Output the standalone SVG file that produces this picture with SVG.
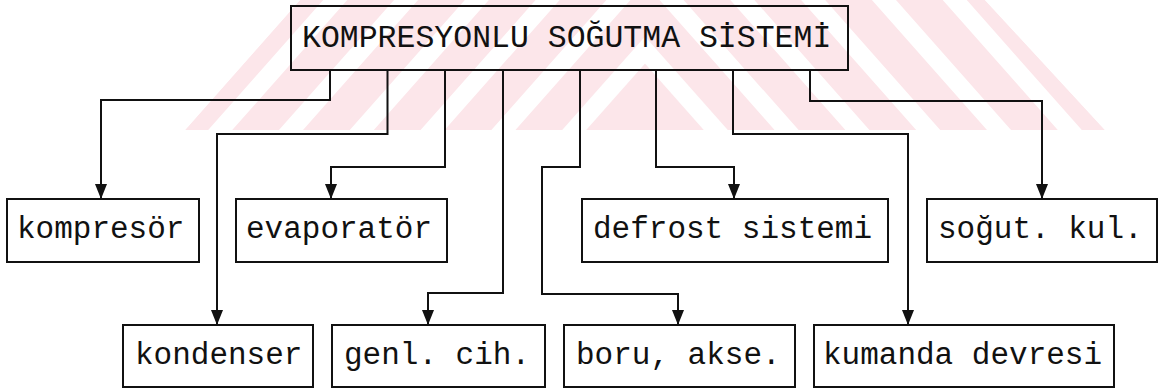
<svg xmlns="http://www.w3.org/2000/svg" width="1160" height="389" viewBox="0 0 1160 389">
<style>
.box{fill:none;stroke:#111;stroke-width:2}
.lbl{font-family:"Liberation Mono","Courier New",monospace;font-size:31px;fill:#111}
.ttl{font-family:"Liberation Mono","Courier New",monospace;font-size:31.5px;fill:#111}
.con{fill:none;stroke:#111;stroke-width:2;marker-end:url(#arr)}
.wm{fill:none;stroke:#fff;stroke-width:18}
</style>
<defs>
<marker id="arr" markerUnits="userSpaceOnUse" markerWidth="15" markerHeight="12" viewBox="0 0 15 12" refX="15" refY="6" orient="auto">
<path d="M0,0 L15,6 L0,12 z" fill="#111"/>
</marker>
<clipPath id="wmclip"><polygon points="185,130 300,0 985,0 1105,130"/></clipPath>
</defs>
<rect width="1160" height="389" fill="#fff"/>
<g id="watermark" clip-path="url(#wmclip)">
<polygon points="185,130 300,0 985,0 1105,130" fill="#fce6ea"/>
<path class="wm" d="M202.5,150 L645,-350 L1087.5,150"/>
<path class="wm" d="M273.3,150 L645,-270 L1016.7,150"/>
<path class="wm" d="M344.1,150 L645,-190 L945.9,150"/>
<path class="wm" d="M414.9,150 L645,-110 L875.1,150"/>
<path class="wm" d="M485.7,150 L645,-30 L804.3,150"/>
<path class="wm" d="M556.5,150 L645,50 L733.5,150"/>
</g>
<g id="connectors">
<path class="con" d="M330,70 V100 H101 V199"/>
<path class="con" d="M387.5,70 V134 H217 V325"/>
<path class="con" d="M445,70 V167 H331 V199"/>
<path class="con" d="M503,70 V293 H428 V325"/>
<path class="con" d="M580,70 V167 H542 V294 H678 V325"/>
<path class="con" d="M656,70 V167 H734 V199"/>
<path class="con" d="M733,70 V134 H908 V325"/>
<path class="con" d="M810,70 V101 H1042 V199"/>
</g>
<g id="root">
<rect class="box" x="291" y="6" width="557" height="64"/>
<text class="ttl" x="302" y="47">KOMPRESYONLU SOĞUTMA SİSTEMİ</text>
</g>
<g id="kompresor">
<rect class="box" x="7" y="199" width="192" height="63"/>
<text class="lbl" x="17" y="238">kompresör</text>
</g>
<g id="evaporator">
<rect class="box" x="236" y="199" width="211" height="63"/>
<text class="lbl" x="246" y="238">evaporatör</text>
</g>
<g id="defrost">
<rect class="box" x="582" y="199" width="306" height="63"/>
<text class="lbl" x="593" y="238">defrost sistemi</text>
</g>
<g id="sogut">
<rect class="box" x="927" y="199" width="230" height="63"/>
<text class="lbl" x="938" y="238">soğut. kul.</text>
</g>
<g id="kondenser">
<rect class="box" x="123" y="325" width="190" height="62"/>
<text class="lbl" x="135" y="364">kondenser</text>
</g>
<g id="genl">
<rect class="box" x="332" y="325" width="213" height="62"/>
<text class="lbl" x="344" y="364">genl. cih.</text>
</g>
<g id="boru">
<rect class="box" x="564" y="325" width="231" height="62"/>
<text class="lbl" x="576" y="364">boru, akse.</text>
</g>
<g id="kumanda">
<rect class="box" x="814" y="325" width="300" height="62"/>
<text class="lbl" x="823" y="364">kumanda devresi</text>
</g>
</svg>
